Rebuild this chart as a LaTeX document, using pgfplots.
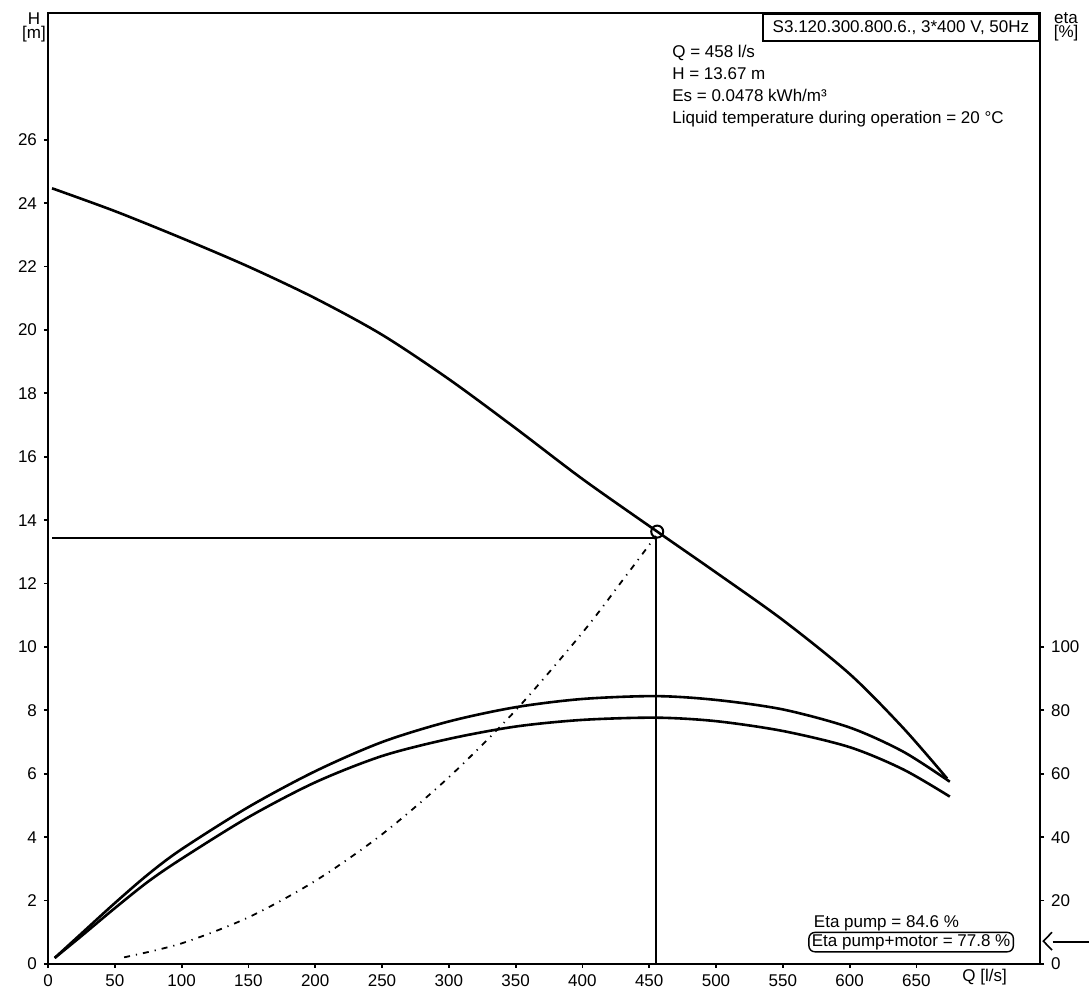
\documentclass[border=0pt]{standalone}
\usepackage{pgfplots}
\pgfplotsset{compat=1.18}
\usepackage{fontspec}
\setmainfont{Liberation Sans}

% pump curve: head H [m] over flow Q [l/s]
\pgfplotstableread{
Q H
3 24.47
50 23.75
100 22.90
150 22.00
200 21.00
250 19.85
300 18.45
350 16.90
400 15.30
456 13.64
500 12.35
550 10.85
600 9.15
640 7.45
673 5.85
}\headtab

% system curve (dash-dot)
\pgfplotstableread{
Q H
57 0.21
100 0.65
150 1.47
200 2.62
250 4.09
300 5.89
350 8.00
400 10.45
430 12.10
455 13.50
}\systab

% efficiencies [%]
\pgfplotstableread{
Q pump motor
5 1.9 1.9
25 9.6 8.8
50 19.2 17.6
75 28.3 26.0
100 36.2 33.2
150 49.5 46.3
200 60.8 57.3
250 70.0 65.6
300 76.5 71.0
350 81.0 74.9
400 83.6 77.0
455 84.5 77.7
500 83.3 76.6
550 80.3 73.5
600 74.6 68.4
640 67.0 61.4
675 57.5 52.8
}\etatab

\begin{document}
\begin{tikzpicture}[font=\fontsize{8.5}{11}\selectfont]
\pgfplotsset{every axis/.append style={
  scale only axis, width=496pt, height=475.5pt,
  xmin=0, xmax=742.5,
  tick align=outside, major tick length=2pt,
  tick style={line width=0.9pt, black},
  axis line style={line width=1.2pt},
  /pgf/number format/assume math mode=true,
  ticklabel style={font=\fontsize{8.5}{10}\selectfont},
  clip=false}}
\begin{axis}[name=ax, ymin=0, ymax=30,
  xtick={0,50,...,650}, ytick={0,2,...,26},
  xtick pos=bottom, ytick pos=left]
  \addplot[line width=1.3pt, smooth] table[x=Q, y=H] {\headtab};
  \addplot[line width=0.9pt, smooth, dash pattern=on 3pt off 3pt on 0.6pt off 3pt] table[x=Q, y=H] {\systab};
  \addplot[line width=1pt] coordinates {(3,13.45) (455,13.45)};
  \addplot[line width=1pt] coordinates {(455,0) (455,13.45)};
  \addplot[only marks, mark=o, mark size=3pt, mark options={line width=1pt}] coordinates {(456,13.64)};
  \node[anchor=north west, align=left, inner sep=0pt] at (axis cs:467,29.0)
    {Q = 458 l/s\\H = 13.67 m\\Es = 0.0478 kWh/m³\\Liquid temperature during operation = 20 °C};
  \node[draw, line width=0.8pt, anchor=north east, inner xsep=5pt, minimum height=11pt]
    at (rel axis cs:1,1) {S3.120.300.800.6., 3*400 V, 50Hz};
  \node[anchor=west, inner sep=0pt] at (axis cs:573,1.29) {Eta pump = 84.6 \%};
  \node[anchor=west, draw, rounded corners=3pt, line width=0.7pt, inner xsep=1.5pt, inner ysep=1pt]
    at (axis cs:569,0.69) {Eta pump+motor = 77.8 \%};
  \node[align=center, inner sep=0pt, font=\fontsize{8.5}{7}\selectfont] at (axis cs:-10.5,29.55) {H\\{[m]}};
  \node[align=center, inner sep=0pt, font=\fontsize{8.5}{7}\selectfont] at (axis cs:762,29.55) {eta\\{[\%]}};
  \node[inner sep=0pt] at (axis cs:701,-0.42) {Q [l/s]};
  \draw[line width=0.8pt] (axis cs:751.5,1.0) -- (axis cs:745,0.72) -- (axis cs:751.5,0.44);
  \draw[line width=0.8pt] (axis cs:752,0.69) -- (axis cs:779,0.69);
\end{axis}
\begin{axis}[ymin=0, ymax=300, axis x line=none, axis y line*=right,
  ytick={0,20,...,100}]
  \addplot[line width=1.3pt, smooth] table[x=Q, y=pump] {\etatab};
  \addplot[line width=1.3pt, smooth] table[x=Q, y=motor] {\etatab};
\end{axis}
\pgfresetboundingbox
\path ([shift={(-24pt,-12pt)}]ax.south west) rectangle ([shift={(24.5pt,6.5pt)}]ax.north east);
\end{tikzpicture}
\end{document}
